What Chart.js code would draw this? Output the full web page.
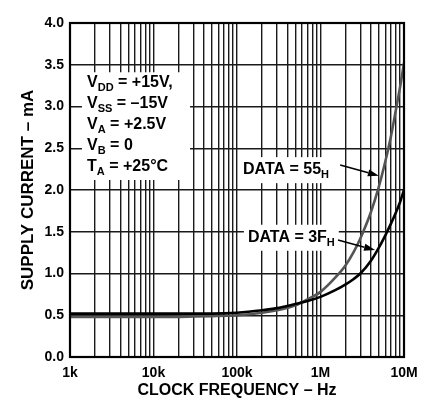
<!DOCTYPE html>
<html>
<head>
<meta charset="utf-8">
<script src="https://cdn.jsdelivr.net/npm/chart.js@4.4.1/dist/chart.umd.min.js"></script>
<style>
  html, body { margin: 0; padding: 0; background: #fff; }
  #wrap { width: 432px; height: 400px; }
</style>
</head>
<body>
<div id="wrap"><canvas id="chart" width="432" height="400"></canvas></div>
<script>
// clock frequency (Hz) and supply current (mA)
var freq   = [1e3, 1e4, 5e4, 1e5, 2e5, 3e5, 5e5, 7e5, 1e6, 1.5e6, 2e6, 2.5e6, 3e6, 4e6, 5e6, 6e6, 7e6, 8e6, 9e6, 1e7];
var data3F = [0.52, 0.52, 0.52, 0.53, 0.56, 0.585, 0.635, 0.67, 0.72, 0.80, 0.87, 0.935, 1.00, 1.15, 1.31, 1.46, 1.60, 1.73, 1.86, 2.00];
var data55 = [0.48, 0.48, 0.49, 0.50, 0.53, 0.56, 0.62, 0.69, 0.78, 0.95, 1.10, 1.26, 1.42, 1.73, 2.04, 2.35, 2.65, 2.96, 3.24, 3.52];

var xLabels = { 3: '1k', 4: '10k', 5: '100k', 6: '1M', 7: '10M' };
var yMin = 0, yMax = 4, yStep = 0.5;

var FONT = '"Liberation Sans", Arial, Helvetica, sans-serif';

// grid lines at 1..9 x 10^n
var gridFreqs = [];
for (var e = 3; e < 7; e++) {
  for (var k = 1; k < 10; k++) gridFreqs.push(k * Math.pow(10, e));
}
gridFreqs.push(1e7);

function pts(ys) {
  return freq.map(function (f, i) { return { x: f, y: ys[i] }; });
}

// conditions box, in data units
var condLines = [
  [['V', 0], ['DD', 1], [' = +15V,', 0]],
  [['V', 0], ['SS', 1], [' = \u201315V', 0]],
  [['V', 0], ['A', 1], [' = +2.5V', 0]],
  [['V', 0], ['B', 1], [' = 0', 0]],
  [['T', 0], ['A', 1], [' = +25\u00B0C', 0]]
];
var condBox = { x1: 1390, x2: 27400, y1: 3.41, y2: 2.12, tx: 1600, ty: 3.23, step: 0.25 };

var curveLabels = [
  { parts: [['DATA = 55', 0], ['H', 1]], x: 118000, y: 2.19, ax1: 1.72e6, ay1: 2.30, ax2: 5.0e6, ay2: 2.17 },
  { parts: [['DATA = 3F', 0], ['H', 1]], x: 135000, y: 1.38, ax1: 1.62e6, ay1: 1.40, ax2: 4.5e6, ay2: 1.28 }
];

function richText(ctx, x, y, parts, draw) {
  parts.forEach(function (p) {
    ctx.font = p[1] ? 'bold 11px ' + FONT : 'bold 16px ' + FONT;
    if (draw) ctx.fillText(p[0], x, p[1] ? y + 4 : y);
    x += ctx.measureText(p[0]).width;
  });
  return x;
}

function arrow(ctx, x1, y1, x2, y2) {
  var a = Math.atan2(y2 - y1, x2 - x1), len = 11, w = 3.5;
  var bx = x2 - len * Math.cos(a), by = y2 - len * Math.sin(a);
  ctx.beginPath();
  ctx.moveTo(x1, y1);
  ctx.lineTo(bx, by);
  ctx.lineWidth = 1.6;
  ctx.strokeStyle = '#000';
  ctx.stroke();
  ctx.beginPath();
  ctx.moveTo(x2, y2);
  ctx.lineTo(bx + w * Math.sin(a), by - w * Math.cos(a));
  ctx.lineTo(bx - w * Math.sin(a), by + w * Math.cos(a));
  ctx.closePath();
  ctx.fillStyle = '#000';
  ctx.fill();
}

var annotations = {
  id: 'annotations',
  beforeDatasetsDraw: function (chart) {
    var ctx = chart.ctx, xs = chart.scales.x, ys = chart.scales.y;
    ctx.save();
    ctx.fillStyle = '#fff';
    var bx1 = xs.getPixelForValue(condBox.x1), bx2 = xs.getPixelForValue(condBox.x2);
    var by1 = ys.getPixelForValue(condBox.y1), by2 = ys.getPixelForValue(condBox.y2);
    ctx.fillRect(bx1, by1, bx2 - bx1, by2 - by1);
    curveLabels.forEach(function (l) {
      var px = xs.getPixelForValue(l.x), py = ys.getPixelForValue(l.y);
      var end = richText(ctx, px, py, l.parts, false);
      ctx.fillStyle = '#fff';
      ctx.fillRect(px - 4, py - 17, end - px + 8, 26);
    });
    ctx.restore();
  },
  afterDatasetsDraw: function (chart) {
    var ctx = chart.ctx, xs = chart.scales.x, ys = chart.scales.y, a = chart.chartArea;
    ctx.save();
    ctx.fillStyle = '#000';
    ctx.textBaseline = 'alphabetic';
    ctx.textAlign = 'left';
    condLines.forEach(function (line, i) {
      richText(ctx, xs.getPixelForValue(condBox.tx), ys.getPixelForValue(condBox.ty - i * condBox.step), line, true);
    });
    curveLabels.forEach(function (l) {
      ctx.fillStyle = '#000';
      richText(ctx, xs.getPixelForValue(l.x), ys.getPixelForValue(l.y), l.parts, true);
      arrow(ctx, xs.getPixelForValue(l.ax1), ys.getPixelForValue(l.ay1),
                 xs.getPixelForValue(l.ax2), ys.getPixelForValue(l.ay2));
    });
    // frame
    ctx.lineWidth = 2.2;
    ctx.strokeStyle = '#000';
    ctx.strokeRect(a.left, a.top, a.right - a.left, a.bottom - a.top);
    ctx.restore();
  }
};

new Chart(document.getElementById('chart'), {
  type: 'line',
  data: {
    datasets: [
      { label: 'DATA = 3FH', data: pts(data3F), borderColor: '#000', borderWidth: 2.6,
        pointRadius: 0, cubicInterpolationMode: 'monotone', fill: false },
      { label: 'DATA = 55H', data: pts(data55), borderColor: '#555', borderWidth: 2.6,
        pointRadius: 0, cubicInterpolationMode: 'monotone', fill: false }
    ]
  },
  options: {
    responsive: false,
    animation: false,
    events: [],
    layout: { padding: { top: 23, right: 28, left: 0, bottom: 0 } },
    plugins: { legend: { display: false }, tooltip: { enabled: false } },
    scales: {
      x: {
        type: 'logarithmic',
        min: 1e3,
        max: 1e7,
        afterBuildTicks: function (scale) {
          scale.ticks = gridFreqs.map(function (v) { return { value: v }; });
        },
        afterFit: function (scale) { scale.height = 43; },
        ticks: {
          autoSkip: false,
          maxRotation: 0,
          padding: 8,
          color: '#000',
          font: { family: FONT, size: 14, weight: 'bold' },
          callback: function (v) {
            var lg = Math.log10(v);
            return Math.abs(lg - Math.round(lg)) < 1e-9 ? xLabels[Math.round(lg)] : '';
          }
        },
        grid: { color: '#1a1a1a', lineWidth: 1.4, drawTicks: false },
        border: { color: '#000', width: 2 },
        title: {
          display: true,
          text: 'CLOCK FREQUENCY \u2013 Hz',
          color: '#000',
          font: { family: FONT, size: 16, weight: 'bold' },
          padding: { top: 4, bottom: 0 }
        }
      },
      y: {
        min: yMin,
        max: yMax,
        afterFit: function (scale) { scale.width = 70; },
        ticks: {
          stepSize: yStep,
          padding: 6,
          color: '#000',
          font: { family: FONT, size: 14, weight: 'bold' },
          callback: function (v) { return v.toFixed(1); }
        },
        grid: { color: '#1a1a1a', lineWidth: 1.4, drawTicks: false },
        border: { color: '#000', width: 2 },
        title: {
          display: true,
          text: 'SUPPLY CURRENT \u2013 mA',
          color: '#000',
          font: { family: FONT, size: 17, weight: 'bold' },
          padding: { top: 18, bottom: 0 }
        }
      }
    }
  },
  plugins: [annotations]
});
</script>
</body>
</html>
